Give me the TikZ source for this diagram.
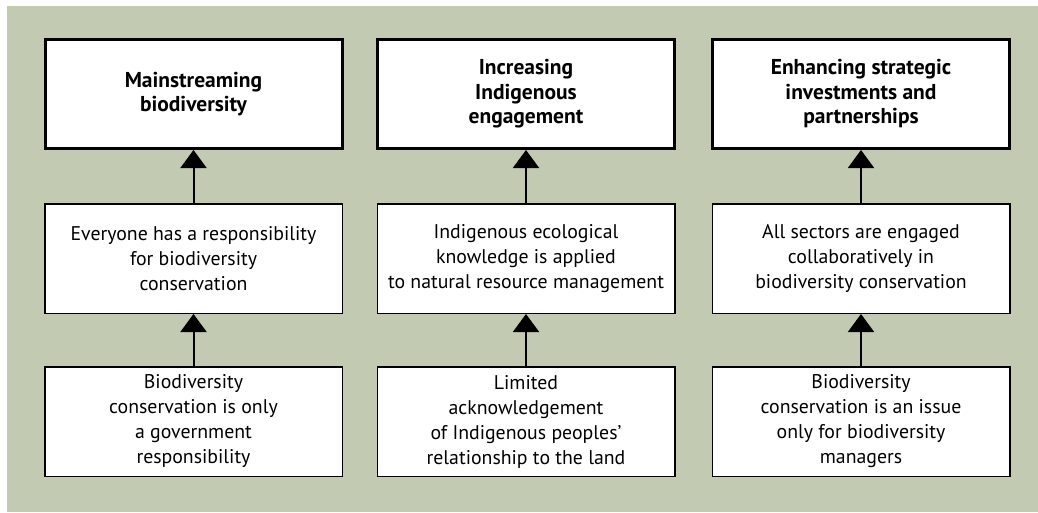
\documentclass[tikz,border=0pt]{standalone}
\usepackage{fontspec}
\setmainfont{PT Sans}
\usetikzlibrary{arrows.meta}
\definecolor{bggreen}{HTML}{C3CAB2}
\tikzset{
  goalbox/.style={draw=black, line width=3pt, fill=white, minimum width=297pt, minimum height=109pt, inner sep=0pt, align=center, font=\fontsize{21.5}{24.5}\selectfont\bfseries},
  stepbox/.style={draw=black, line width=1.5pt, fill=white, minimum width=297.5pt, minimum height=109.5pt, inner sep=0pt, align=center, font=\fontsize{19.8}{25}\selectfont},
  uparrow/.style={line width=2pt, -{Triangle[width=26pt,length=18pt]}}
}
\begin{document}
\begin{tikzpicture}[x=1pt,y=-1pt]
\useasboundingbox (0,0) rectangle (1038,512);
\fill[white] (0,0) rectangle (1038,512);
\fill[bggreen] (7,6) rectangle (1038,512);

\node[goalbox] (t1) at (193.5,94) {Mainstreaming\\biodiversity};
\node[goalbox] (t2) at (526,94) {Increasing\\Indigenous\\engagement};
\node[goalbox] (t3) at (861,94) {Enhancing strategic\\investments and\\partnerships};

\node[stepbox] (m1) at (193.5,258.5) {Everyone has a responsibility\\for biodiversity\\conservation};
\node[stepbox] (m2) at (526,258.5) {Indigenous ecological\\knowledge is applied\\to natural resource management};
\node[stepbox] (m3) at (861,258.5) {All sectors are engaged\\collaboratively in\\biodiversity conservation};

\node[stepbox] (b1) at (193.5,421.5) {Biodiversity\\conservation is only\\a government\\responsibility};
\node[stepbox] (b2) at (526,421.5) {Limited\\acknowledgement\\of Indigenous peoples’\\relationship to the land};
\node[stepbox] (b3) at (861,421.5) {Biodiversity\\conservation is an issue\\only for biodiversity\\managers};

\draw[uparrow] (m1.north) -- (t1.south);
\draw[uparrow] (m2.north) -- (t2.south);
\draw[uparrow] (m3.north) -- (t3.south);
\draw[uparrow] (b1.north) -- (m1.south);
\draw[uparrow] (b2.north) -- (m2.south);
\draw[uparrow] (b3.north) -- (m3.south);
\end{tikzpicture}
\end{document}
